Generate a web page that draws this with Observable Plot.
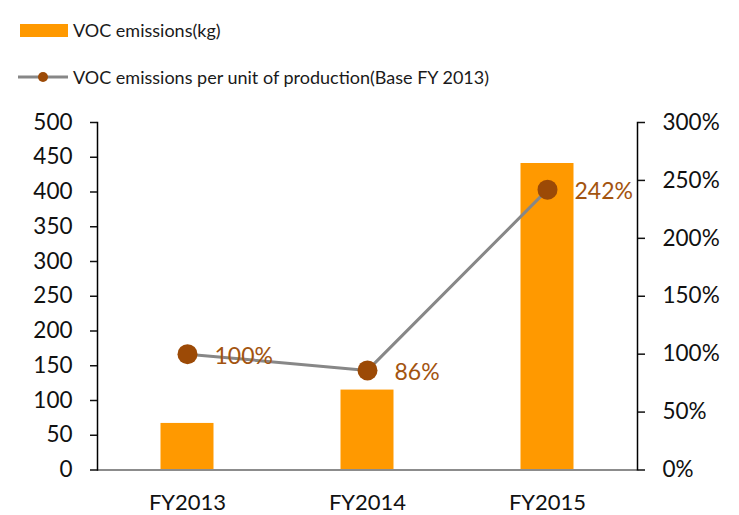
<!DOCTYPE html>
<html><head><meta charset="utf-8">
<script src="https://cdn.jsdelivr.net/npm/d3@7"></script>
<script src="https://cdn.jsdelivr.net/npm/@observablehq/plot@0.6"></script>
<style>
body{margin:0;background:#fff;font-family:Lato,sans-serif;}
#wrap{position:relative;width:739px;height:515px;overflow:hidden;}
#legend{position:absolute;left:0;top:0;width:739px;height:100px;}
.item{position:absolute;left:18px;height:20px;display:flex;align-items:center;font-size:18px;color:#1a1a1a;white-space:nowrap;}
.item svg{margin-right:5px;}
#chart{position:absolute;left:0;top:100px;}
</style></head><body>
<div id="wrap"><div id="legend"></div><div id="chart"></div></div>
<script>
const categories = ["FY2013", "FY2014", "FY2015"];
const emissionsKg = [67, 115, 441];
const perUnitPct = [100, 86, 242];
const leftTicks = [0, 50, 100, 150, 200, 250, 300, 350, 400, 450, 500];
const rightTicks = [0, 50, 100, 150, 200, 250, 300];
const seriesNames = ["VOC emissions(kg)", "VOC emissions per unit of production(Base FY 2013)"];

const barColor = "#ff9900";
const lineColor = "#878787";
const dotColor = "#9c4a06";
const labelColor = "#a3540f";

const data = categories.map((c, i) => ({cat: c, kg: emissionsKg[i], pct: perUnitPct[i]}));
const y2 = d3.scaleLinear([0, 300], [0, 500]);

// Legend
const legend = document.getElementById("legend");
legend.innerHTML = `
<div class="item" style="top:20px"><svg width="50" height="14"><rect x="2" y="1" width="48" height="13" fill="${barColor}"/></svg>${seriesNames[0]}</div>
<div class="item" style="top:67px"><svg width="50" height="14"><line x1="0" x2="50" y1="7" y2="7" stroke="${lineColor}" stroke-width="3"/><circle cx="25" cy="7" r="5" fill="${dotColor}"/></svg>${seriesNames[1]}</div>`;

const chart = Plot.plot({
  width: 739,
  height: 415,
  marginLeft: 97,
  marginRight: 102,
  marginTop: 22,
  marginBottom: 45.5,
  style: {fontFamily: "Lato, sans-serif", fontSize: "22px", color: "#111", background: "#fff"},
  x: {domain: categories, padding: 0, label: null},
  y: {domain: [0, 500], nice: false, label: null},
  marks: [
    Plot.barY(data, {x: "cat", y: "kg", fill: barColor, insetLeft: 63.5, insetRight: 63.5}),
    Plot.ruleY([0], {stroke: "#8c8c8c", strokeWidth: 2}),
    Plot.frame({anchor: "left", stroke: "#000", strokeWidth: 1.5}),
    Plot.frame({anchor: "right", stroke: "#000", strokeWidth: 1.5}),
    Plot.axisY(leftTicks, {anchor: "left", tickSize: 7, tickPadding: 18, fontSize: 22.5, label: null, strokeWidth: 1.5}),
    Plot.axisY(rightTicks, {anchor: "right", y: y2, tickFormat: d => d + "%", tickSize: 7, tickPadding: 18, fontSize: 22.5, label: null, strokeWidth: 1.5}),
    Plot.axisX({tickSize: 0, tickPadding: 24, fontSize: 22, label: null}),
    Plot.line(data, {x: "cat", y: d => y2(d.pct), stroke: lineColor, strokeWidth: 3}),
    Plot.dot(data, {x: "cat", y: d => y2(d.pct), r: 10, fill: dotColor}),
    Plot.text(data, {x: "cat", y: d => y2(d.pct), text: d => d.pct + "%", dx: 27, dy: 2, textAnchor: "start", fill: labelColor, fontSize: 23})
  ]
});
document.getElementById("chart").appendChild(chart);
</script>
</body></html>
